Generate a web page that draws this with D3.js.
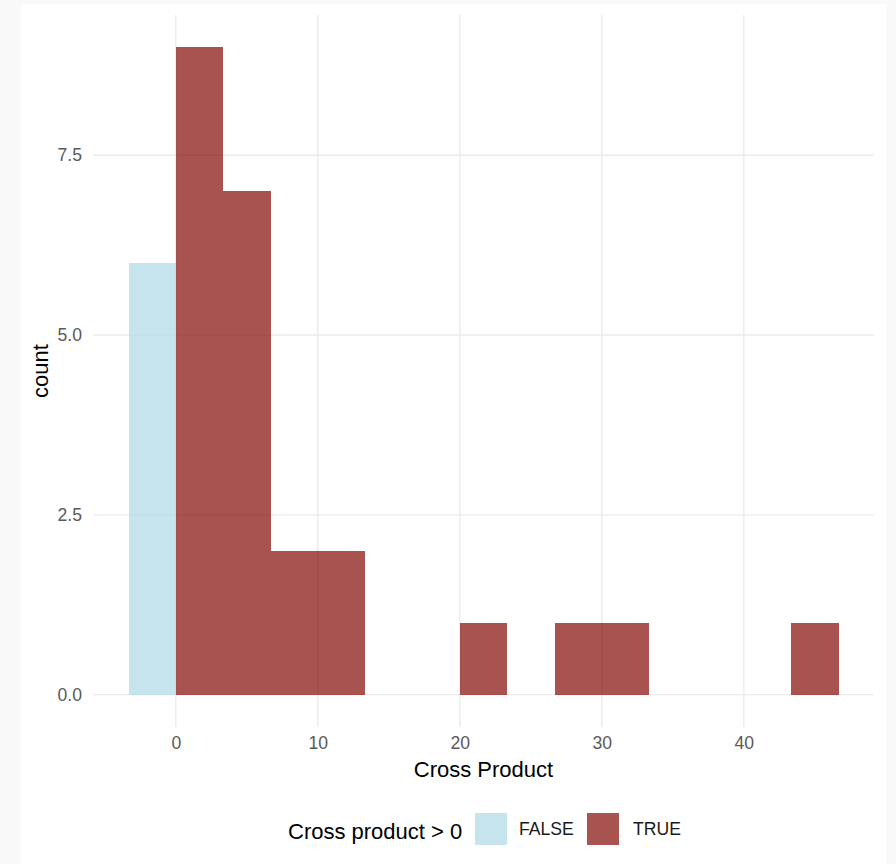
<!DOCTYPE html>
<html>
<head>
<meta charset="utf-8">
<script src="https://cdn.jsdelivr.net/npm/d3@7"></script>
<style>
  html, body { margin: 0; padding: 0; background: #f9f9f9; }
  svg { display: block; font-family: "Liberation Sans", Arial, Helvetica, sans-serif; }
</style>
</head>
<body>
<script>
// ---- data ----
const binEdges = [-3.333, 0, 3.333, 6.667, 10, 13.333, 16.667, 20, 23.333, 26.667, 30, 33.333, 36.667, 40, 43.333, 46.667];
const groups = ["FALSE", "TRUE"];
const falseCounts = [6, 0, 0, 0, 0, 0, 0, 0, 0, 0, 0, 0, 0, 0, 0];
const trueCounts  = [0, 9, 7, 2, 2, 0, 0, 1, 0, 1, 1, 0, 0, 0, 1];
const xTicks = [0, 10, 20, 30, 40];
const yTicks = [0, 2.5, 5, 7.5];
const xTitle = "Cross Product";
const yTitle = "count";
const legendTitle = "Cross product > 0";

// ---- layout ----
const W = 896, H = 864;
const panel = { left: 93, right: 874, top: 15, bottom: 727 };
const colors = { FALSE: "#add8e6", TRUE: "#850a06" };
const barOpacity = 0.7;

const svg = d3.select("body").append("svg").attr("width", W).attr("height", H);
svg.append("rect").attr("x", 0).attr("y", 0).attr("width", W).attr("height", H).attr("fill", "#f9f9f9");
svg.append("rect").attr("x", 21).attr("y", 4).attr("width", 865).attr("height", H - 4).attr("fill", "#ffffff");

const xMin = binEdges[0], xMax = binEdges[binEdges.length - 1];
const xPad = (xMax - xMin) * 0.05;
const yMax = d3.max([...falseCounts, ...trueCounts]);
const yPad = yMax * 0.05;

const x = d3.scaleLinear().domain([xMin - xPad, xMax + xPad]).range([panel.left, panel.right]);
const y = d3.scaleLinear().domain([-yPad, yMax + yPad]).range([panel.bottom, panel.top]);

// grid
const grid = svg.append("g").attr("stroke", "#ebebeb").attr("stroke-width", 1.4);
grid.selectAll("line.v").data(xTicks).join("line")
  .attr("x1", d => x(d)).attr("x2", d => x(d))
  .attr("y1", panel.top).attr("y2", panel.bottom);
grid.selectAll("line.h").data(yTicks).join("line")
  .attr("x1", panel.left).attr("x2", panel.right)
  .attr("y1", d => y(d)).attr("y2", d => y(d));

// bars
const seriesData = [
  { key: "FALSE", counts: falseCounts },
  { key: "TRUE", counts: trueCounts }
];
seriesData.forEach(s => {
  const bins = s.counts.map((c, i) => ({ x0: binEdges[i], x1: binEdges[i + 1], c }))
    .filter(b => b.c > 0);
  svg.append("g").attr("shape-rendering", "crispEdges").selectAll("rect").data(bins).join("rect")
    .attr("x", d => Math.round(x(d.x0)))
    .attr("width", d => Math.round(x(d.x1)) - Math.round(x(d.x0)))
    .attr("y", d => Math.round(y(d.c)))
    .attr("height", d => Math.round(y(0)) - Math.round(y(d.c)))
    .attr("fill", colors[s.key])
    .attr("fill-opacity", barOpacity);
});

// axes (tick labels only, theme_minimal)
const xAxis = d3.axisBottom(x).tickValues(xTicks).tickSize(0).tickPadding(10).tickFormat(d3.format("d"));
const gx = svg.append("g").attr("transform", `translate(0,${panel.bottom})`).call(xAxis);
gx.select(".domain").remove();
gx.selectAll("text").attr("fill", "#5a5a5a").attr("font-size", "17.6px")
  .attr("font-family", "Liberation Sans, Arial, sans-serif");

const yAxis = d3.axisLeft(y).tickValues(yTicks).tickSize(0).tickPadding(11).tickFormat(d3.format(".1f"));
const gy = svg.append("g").attr("transform", `translate(${panel.left},0)`).call(yAxis);
gy.select(".domain").remove();
gy.selectAll("text").attr("fill", "#5a5a5a").attr("font-size", "17.6px")
  .attr("font-family", "Liberation Sans, Arial, sans-serif");

// axis titles
svg.append("text").attr("x", (panel.left + panel.right) / 2).attr("y", 777)
  .attr("text-anchor", "middle").attr("font-size", "22px").attr("fill", "#000")
  .text(xTitle);
svg.append("text")
  .attr("transform", `translate(48,${(panel.top + panel.bottom) / 2}) rotate(-90)`)
  .attr("text-anchor", "middle").attr("font-size", "22px").attr("fill", "#000")
  .text(yTitle);

// legend
const leg = svg.append("g");
leg.append("text").attr("x", 288).attr("y", 839).attr("font-size", "22px").attr("fill", "#000")
  .text(legendTitle);
const keyX = [475, 587];
const labX = [519, 633];
groups.forEach((g, i) => {
  leg.append("rect").attr("x", keyX[i]).attr("y", 813).attr("width", 32).attr("height", 32)
    .attr("fill", colors[g]).attr("fill-opacity", barOpacity);
  leg.append("text").attr("x", labX[i]).attr("y", 835).attr("font-size", "17.6px").attr("fill", "#1a1a1a")
    .text(g);
});
</script>
</body>
</html>
